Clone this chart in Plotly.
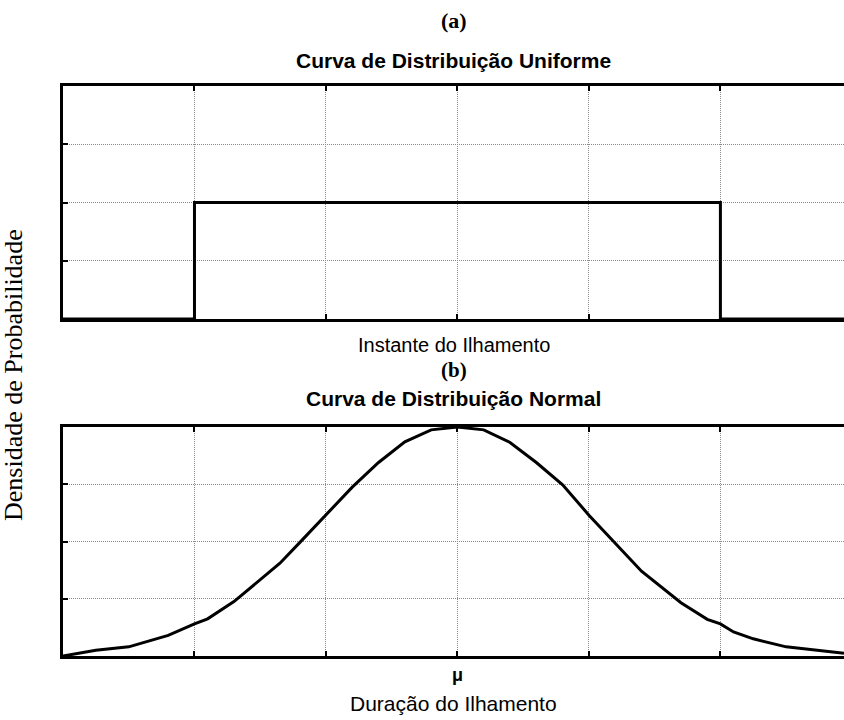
import plotly.graph_objects as go

# Uniform distribution (a): flat density between the two break points
uniform_x = [0, 1, 1, 5, 5, 5.94]
uniform_y = [0, 0, 2, 2, 0, 0]

# Normal distribution (b): sampled density curve around the mean
normal_x = [0, 0.25, 0.5, 0.8, 1.0, 1.1, 1.3, 1.5, 1.65, 1.8, 2.0, 2.2, 2.4, 2.6, 2.8,
            3.0, 3.2, 3.4, 3.6, 3.8, 4.0, 4.2, 4.4, 4.7, 4.9, 5.0, 5.1, 5.25, 5.5, 5.94]
normal_y = [0, 0.10, 0.16, 0.36, 0.56, 0.65, 0.95, 1.33, 1.62, 1.98, 2.46, 2.95, 3.38, 3.74, 3.95,
            4.0, 3.95, 3.73, 3.38, 2.99, 2.46, 1.97, 1.48, 0.93, 0.64, 0.56, 0.42, 0.30, 0.16, 0.05]

x_ticks = [0, 1, 2, 3, 4, 5, 6]
x_ticktext_b = ["", "", "", "<b>μ</b>", "", "", ""]
y_ticks = [0, 1, 2, 3, 4]

W, H = 844, 720


def py(p):
    return 1 - p / H


fig = go.Figure()
fig.add_trace(go.Scatter(x=uniform_x, y=uniform_y, mode="lines",
                         line=dict(color="black", width=3), xaxis="x", yaxis="y",
                         showlegend=False, hoverinfo="skip"))
fig.add_trace(go.Scatter(x=normal_x, y=normal_y, mode="lines",
                         line=dict(color="black", width=3), xaxis="x2", yaxis="y2",
                         showlegend=False, hoverinfo="skip"))

axis_common = dict(
    showline=True, linecolor="black", linewidth=3,
    showgrid=True, gridcolor="#8a8a8a", gridwidth=1, griddash="1px,1px",
    zeroline=False, ticks="inside", ticklen=5, tickwidth=2, tickcolor="black",
)

fig.update_layout(
    width=W, height=H,
    margin=dict(l=63, r=0, t=0, b=0),
    paper_bgcolor="white", plot_bgcolor="white",
    xaxis=dict(axis_common, domain=[0, 1], range=[0, 5.94], tickvals=x_ticks,
               showticklabels=False, mirror="ticks", anchor="y"),
    yaxis=dict(axis_common, domain=[py(319), py(86)], range=[0, 4], tickvals=y_ticks,
               showticklabels=False, anchor="x"),
    xaxis2=dict(axis_common, domain=[0, 1], range=[0, 5.94], tickvals=x_ticks,
                ticktext=x_ticktext_b, mirror="ticks", anchor="y2",
                tickfont=dict(family="Liberation Sans", size=18, color="black")),
    yaxis2=dict(axis_common, domain=[py(656), py(427)], range=[0, 4], tickvals=y_ticks,
                showticklabels=False, anchor="x2"),
)

# paper x runs across the plot area, so 0.5 is its centre
cx = 0.5

texts = [
    ("<b>(a)</b>", 20, "Liberation Serif", 22),
    ("<b>Curva de Distribuição Uniforme</b>", 60, "Liberation Sans", 21),
    ("Instante do Ilhamento", 345, "Liberation Sans", 20),
    ("<b>(b)</b>", 370, "Liberation Serif", 21),
    ("<b>Curva de Distribuição Normal</b>", 398, "Liberation Sans", 21),
    ("Duração do Ilhamento", 703, "Liberation Sans", 21),
]
for txt, ypix, fam, size in texts:
    fig.add_annotation(text=txt, xref="paper", yref="paper", x=cx, y=py(ypix),
                       xanchor="center", yanchor="middle", showarrow=False,
                       font=dict(family=fam, size=size, color="black"))

fig.add_annotation(text="Densidade de Probabilidade", xref="paper", yref="paper",
                   x=-50 / (W - 63), y=py(375), xanchor="center", yanchor="middle",
                   textangle=-90, showarrow=False,
                   font=dict(family="Liberation Serif", size=26, color="black"))

fig.write_html("out.html")
